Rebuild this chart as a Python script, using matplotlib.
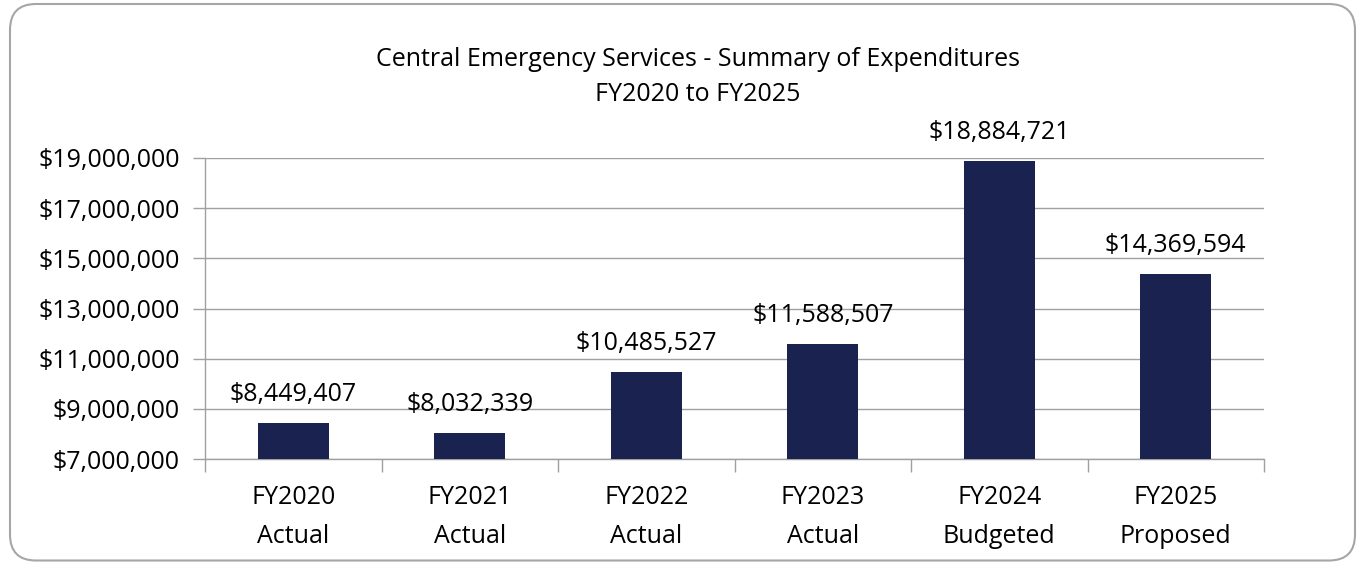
import matplotlib
matplotlib.use("Agg")
import matplotlib.pyplot as plt
from matplotlib.patches import FancyBboxPatch
from matplotlib.transforms import IdentityTransform
from matplotlib.ticker import FuncFormatter, FixedLocator

categories = ["FY2020\nActual", "FY2021\nActual", "FY2022\nActual",
              "FY2023\nActual", "FY2024\nBudgeted", "FY2025\nProposed"]
values = [8449407, 8032339, 10485527, 11588507, 18884721, 14369594]
yticks = [7000000, 9000000, 11000000, 13000000, 15000000, 17000000, 19000000]
title = "Central Emergency Services - Summary of Expenditures\nFY2020 to FY2025"

plt.rcParams['font.family'] = ['Open Sans', 'DejaVu Sans']

W, H = 1358, 562
dpi = 100
fig = plt.figure(figsize=(W / dpi, H / dpi), dpi=dpi)

border = FancyBboxPatch((10, 1.5), 1345, 556.5,
                        boxstyle="round,pad=0,rounding_size=26",
                        transform=IdentityTransform(), facecolor="none",
                        edgecolor="#A6A6A6", linewidth=1.5, zorder=-1)
fig.patches.append(border)

ax = fig.add_axes([205 / W, (H - 459) / H, 1059 / W, 301 / H])
ax.set_facecolor("none")

x = list(range(len(values)))
bars = ax.bar(x, values, width=0.4, color="#1A2350", zorder=3)

ax.set_xlim(-0.5, len(values) - 0.5)
ax.set_ylim(yticks[0], yticks[-1])
ax.yaxis.set_major_locator(FixedLocator(yticks))
ax.yaxis.set_major_formatter(FuncFormatter(lambda v, p: f"${v:,.0f}"))
ax.grid(axis="y", color="#A0A0A0", linewidth=1, zorder=0)

for s in ["top", "right"]:
    ax.spines[s].set_visible(False)
for s in ["left", "bottom"]:
    ax.spines[s].set_color("#A0A0A0")
    ax.spines[s].set_linewidth(1)

ax.set_xticks(x)
ax.set_xticklabels(categories, fontsize=18, linespacing=1.7)
ax.xaxis.set_minor_locator(FixedLocator([i - 0.5 for i in range(len(values) + 1)]))
ax.tick_params(axis="x", which="major", length=0, pad=19)
ax.tick_params(axis="x", which="minor", length=9, color="#A0A0A0", width=1)
ax.tick_params(axis="y", length=9, color="#A0A0A0", width=1, labelsize=18, pad=9)

for xi, v in zip(x, values):
    ax.annotate(f"${v:,.0f}", (xi, v), xytext=(0, 11.5), textcoords="offset points",
                ha="center", va="bottom", fontsize=18, color="black")

fig.text(698 / W, 1 - 77 / H, title, ha="center", va="center", fontsize=18,
         linespacing=1.55)

fig.savefig("out.png", dpi=dpi)
